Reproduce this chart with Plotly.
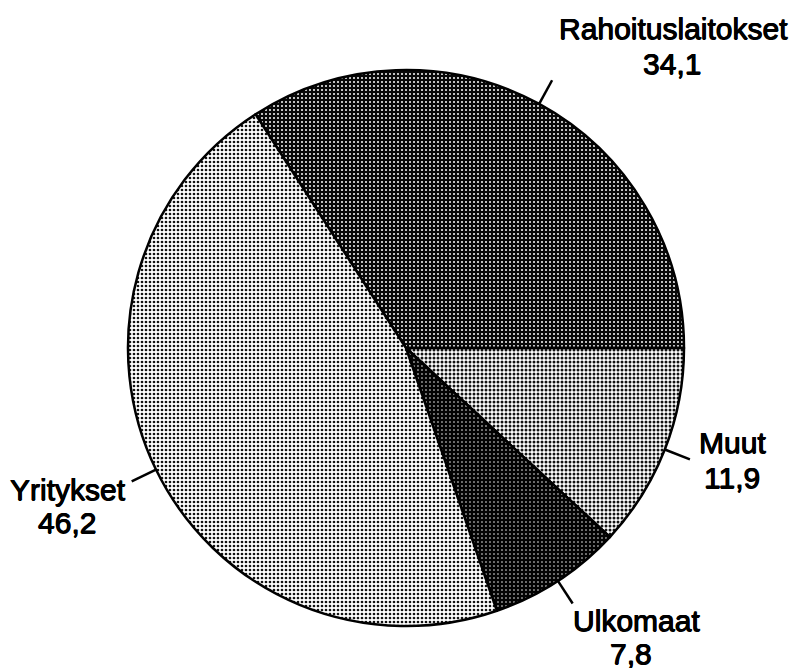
import math
import plotly.graph_objects as go

# ---- data ----
labels = ["Rahoituslaitokset", "Muut", "Ulkomaat", "Yritykset"]
values = [34.1, 11.9, 7.8, 46.2]
value_text = ["34,1", "11,9", "7,8", "46,2"]

# ---- layout constants ----
W, H = 801, 668
CX, CY, R = 406, 348, 278          # pixel centre / radius of pie
LEAD = 27                          # leader line length (px)
FONT = "Liberation Sans, Arial, Helvetica, sans-serif"
FS = 30
SHADOW = "0.6px 0 0 black, -0.4px 0 0 black, 0 0.5px 0 black"

# label name / value centre positions (px)
name_pos = [(673, 29), (732, 442), (636, 620), (68, 489)]
val_pos = [(672, 64), (732, 477), (631, 653), (67, 522)]

pattern = dict(
    shape=[".", ".", ".", "."],
    bgcolor=["#080808", "#ffffff", "#030303", "#ffffff"],
    fgcolor=["#ffffff", "#111111", "#ffffff", "#111111"],
    size=[4, 4, 4, 4],
    solidity=[0.2, 0.45, 0.12, 0.36],
    fillmode="replace",
)
fills = ["#3c3c3c", "#b8b8b8", "#1c1c1c", "#c4c4c4"]

total = sum(values)
rotation = 90 - 360 * values[0] / total

fig = go.Figure(go.Pie(
    labels=labels,
    values=values,
    sort=False,
    direction="clockwise",
    rotation=rotation,
    textinfo="none",
    hoverinfo="label+value",
    showlegend=False,
    marker=dict(colors=fills, pattern=pattern, line=dict(color="black", width=2.5)),
    domain=dict(x=[(CX - R) / W, (CX + R) / W], y=[1 - (CY + R) / H, 1 - (CY - R) / H]),
))

def px2paper(x, y):
    return x / W, 1 - y / H

shapes = []
annotations = []
cum = 0.0
for i, v in enumerate(values):
    mid = rotation + 360 * (cum + v / 2) / total
    cum += v
    a = math.radians(mid)
    x0, y0 = CX + R * math.sin(a), CY - R * math.cos(a)
    x1, y1 = CX + (R + LEAD) * math.sin(a), CY - (R + LEAD) * math.cos(a)
    p0, p1 = px2paper(x0, y0), px2paper(x1, y1)
    shapes.append(dict(type="line", xref="paper", yref="paper",
                       x0=p0[0], y0=p0[1], x1=p1[0], y1=p1[1],
                       line=dict(color="black", width=2.5)))
    for txt, pos in ((labels[i], name_pos[i]), (value_text[i], val_pos[i])):
        px, py = px2paper(*pos)
        annotations.append(dict(text=txt, x=px, y=py, xref="paper", yref="paper",
                                xanchor="center", yanchor="middle", showarrow=False,
                                font=dict(family=FONT, size=FS, color="black",
                                          shadow=SHADOW)))

fig.update_layout(
    width=W, height=H,
    margin=dict(l=0, r=0, t=0, b=0),
    paper_bgcolor="white", plot_bgcolor="white",
    shapes=shapes, annotations=annotations,
)

fig.write_html(
    "out.html",
    config={"displayModeBar": False},
    post_script="document.body.style.margin='0';document.body.style.overflow='hidden';",
)
